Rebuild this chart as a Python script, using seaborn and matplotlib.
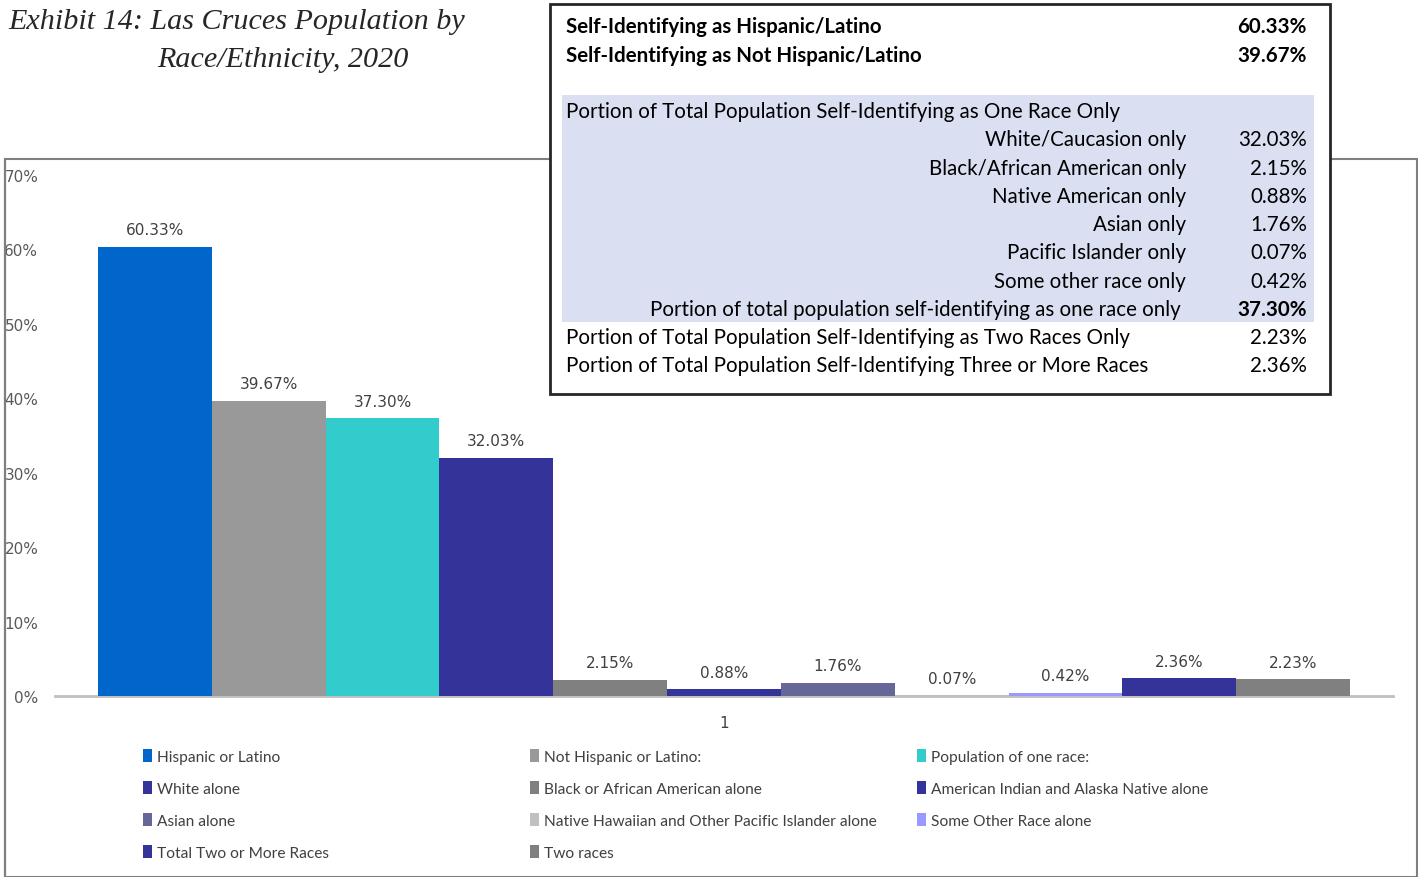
import matplotlib
matplotlib.use("Agg")
import matplotlib.pyplot as plt
import seaborn as sns
import pandas as pd
from matplotlib.patches import Rectangle, Patch

# ---------------- data ----------------
categories = [
    "Hispanic or Latino",
    "Not Hispanic or Latino:",
    "Population of one race:",
    "White alone",
    "Black or African American alone",
    "American Indian and Alaska Native alone",
    "Asian alone",
    "Native Hawaiian and Other Pacific Islander alone",
    "Some Other Race alone",
    "Total Two or More Races",
    "Two races",
]
values = [60.33, 39.67, 37.30, 32.03, 2.15, 0.88, 1.76, 0.07, 0.42, 2.36, 2.23]
group = ["1"] * len(categories)
colors = ["#0066CC", "#999999", "#33CCCC", "#333399", "#808080", "#333399",
          "#666699", "#C0C0C0", "#9999FF", "#333399", "#808080"]
y_ticks = [0, 10, 20, 30, 40, 50, 60, 70]

title_lines = ["Exhibit 14: Las Cruces Population by", "Race/Ethnicity, 2020"]

table_labels = [
    "Self-Identifying as Hispanic/Latino",
    "Self-Identifying as Not Hispanic/Latino",
    "Portion of Total Population Self-Identifying as One Race Only",
    "White/Caucasion only",
    "Black/African American only",
    "Native American only",
    "Asian only",
    "Pacific Islander only",
    "Some other race only",
    "Portion of total population self-identifying as one race only",
    "Portion of Total Population Self-Identifying as Two Races Only",
    "Portion of Total Population Self-Identifying Three or More Races",
]
table_values = ["60.33%", "39.67%", "", "32.03%", "2.15%", "0.88%", "1.76%",
                "0.07%", "0.42%", "37.30%", "2.23%", "2.36%"]
table_row_y = [27, 56, 112, 140, 169, 197, 225, 253, 282, 310, 338, 366]
table_align = ["left", "left", "left", "right", "right", "right", "right",
               "right", "right", "right2", "left", "left"]
table_bold = [True, True, False, False, False, False, False, False, False, False, False, False]
table_val_bold = [True, True, False, False, False, False, False, False, False, True, False, False]

df = pd.DataFrame({"group": group, "category": categories, "value": values})

# ---------------- figure ----------------
W, H = 1418, 878
sns.set_theme(style="white")
plt.rcParams["font.family"] = ["DejaVu Sans"]
fig = plt.figure(figsize=(W / 100, H / 100), dpi=100)
fig.patch.set_facecolor("white")


def px(x, y):
    return x / W, 1 - y / H


# outer chart frame
fig.patches.append(Rectangle(px(5, 878), (1417 - 5) / W, (878 - 160) / H,
                             transform=fig.transFigure, fill=False,
                             edgecolor="#7F7F7F", linewidth=1.5, zorder=0))
fig.lines.append(plt.Line2D([5 / W, 5 / W], [0, 1 - 160 / H], transform=fig.transFigure,
                            color="#333333", linewidth=1.5, zorder=0))

ax = fig.add_axes([55 / W, 1 - 697 / H, (1393 - 55) / W, (697 - 176) / H])
ax.set_facecolor("none")

sns.barplot(data=df, x="group", y="value", hue="category", hue_order=categories,
            palette=colors, saturation=1, width=0.936, gap=0, legend=False, ax=ax,
            errorbar=None, linewidth=0, edgecolor="none")

for cont, v in zip(ax.containers, values):
    ax.bar_label(cont, labels=[f"{v:.2f}%"], padding=7, fontsize=11, color="#404040")

ax.set_ylim(0, 70)
ax.set_xlim(-0.5, 0.5)
ax.set_yticks(y_ticks)
ax.set_yticklabels([f"{t}%" for t in y_ticks])
ax.tick_params(axis="y", length=0, pad=12, labelsize=11, labelcolor="#595959")
ax.tick_params(axis="x", length=0, pad=14, labelsize=11, labelcolor="#404040")
ax.set_xlabel("")
ax.set_ylabel("")
for s in ["top", "right", "left"]:
    ax.spines[s].set_visible(False)
ax.spines["bottom"].set_color("#BFBFBF")
ax.spines["bottom"].set_linewidth(2)
ax.spines["bottom"].set_zorder(0)

# legend: three separate columns
cols = [[0, 3, 6, 9], [1, 4, 7, 10], [2, 5, 8]]
col_x = [143, 530, 917]
for ci, idxs in enumerate(cols):
    handles = [Patch(facecolor=colors[i], edgecolor="none", label=categories[i]) for i in idxs]
    fig.legend(handles=handles, loc="upper left", bbox_to_anchor=px(col_x[ci], 750),
               frameon=False, handlelength=0.6, handleheight=0.9,
               handletextpad=0.3, labelspacing=1.1, borderpad=0, borderaxespad=0,
               labelcolor="#404040", prop={"family": ["Lato", "DejaVu Sans"], "size": 11.2})

# title
fig.text(*px(8, 29), title_lines[0], fontsize=21.7, style="italic",
         family=["Liberation Serif", "DejaVu Serif"], color="#262626", va="baseline", ha="left")
fig.text(*px(157, 67), title_lines[1], fontsize=21.7, style="italic",
         family=["Liberation Serif", "DejaVu Serif"], color="#262626", va="baseline", ha="left")

# table box
fig.patches.append(Rectangle(px(550, 395), (1330 - 550) / W, (395 - 5) / H,
                             transform=fig.transFigure, facecolor="white",
                             edgecolor="#262626", linewidth=2, zorder=5))
fig.patches.append(Rectangle(px(562, 323), (1314 - 562) / W, (323 - 96) / H,
                             transform=fig.transFigure, facecolor="#DAE0F2",
                             edgecolor="none", zorder=6))
tfont = ["Lato", "DejaVu Sans"]
tsize = 14.8
for lab, val, yy, al, b, vb in zip(table_labels, table_values, table_row_y,
                                    table_align, table_bold, table_val_bold):
    if al == "left":
        fig.text(*px(566, yy), lab, ha="left", va="center", fontsize=tsize,
                 fontweight="bold" if b else "normal", family=tfont, color="black", zorder=7)
    elif al == "right":
        fig.text(*px(1186, yy), lab, ha="right", va="center", fontsize=tsize,
                 family=tfont, color="black", zorder=7)
    else:
        fig.text(*px(1181, yy), lab, ha="right", va="center", fontsize=tsize,
                 family=tfont, color="black", zorder=7)
    if val:
        fig.text(*px(1307, yy), val, ha="right", va="center", fontsize=tsize,
                 fontweight="bold" if vb else "normal", family=tfont, color="black", zorder=7)

fig.savefig("out.png", dpi=100, facecolor="white")
